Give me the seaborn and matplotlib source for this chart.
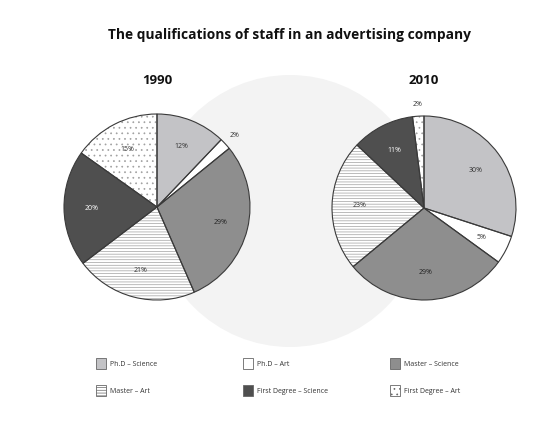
import numpy as np
import seaborn as sns
import matplotlib.pyplot as plt
from matplotlib.patches import Circle, Patch

categories = ['Ph.D – Science', 'Ph.D – Art', 'Master – Science',
              'Master – Art', 'First Degree – Science', 'First Degree – Art']
values_1990 = [12, 2, 29, 21, 20, 15]
values_2010 = [30, 5, 29, 23, 11, 2]
labels_1990 = ['12%', '2%', '29%', '21%', '20%', '15%']
labels_2010 = ['30%', '5%', '29%', '23%', '11%', '2%']

sns.set_theme(style='white')
plt.rcParams['font.family'] = ['Open Sans', 'DejaVu Sans']
plt.rcParams['hatch.linewidth'] = 0.5

face_colors = ['#c3c3c6', '#ffffff', '#8e8e8e', '#ffffff', '#4f4f4f', '#ffffff']
hatches = ['', '', '', '------', '', '...']
text_colors = ['#333333', '#333333', '#222222', '#333333', '#ffffff', '#333333']

W, H = 537, 432
fig = plt.figure(figsize=(W / 100, H / 100), dpi=100)
fig.patch.set_facecolor('white')

# faint watermark circle behind the charts
bg = fig.add_axes([0, 0, 1, 1], zorder=-1)
bg.set_xlim(0, W)
bg.set_ylim(H, 0)
bg.axis('off')
bg.add_patch(Circle((290, 211), 136, color='#f3f3f3', lw=0))


def draw_pie(cx, cy, r, values, labels, year):
    side = 2 * r * 1.3
    ax = fig.add_axes([(cx - side / 2) / W, (H - cy - side / 2) / H, side / W, side / H])
    # fill + hatch in light gray
    wedges, _ = ax.pie(values, colors=face_colors, startangle=90, counterclock=False,
                       wedgeprops=dict(edgecolor='#a0a0a0', linewidth=0))
    for w, h in zip(wedges, hatches):
        w.set_hatch(h)
    # outlines on top
    ax.pie(values, colors=['none'] * len(values), startangle=90, counterclock=False,
           wedgeprops=dict(edgecolor='#3a3a3a', linewidth=0.8, fill=False))
    total = sum(values)
    for w, lab, v, tc in zip(wedges, labels, values, text_colors):
        mid = np.deg2rad((w.theta1 + w.theta2) / 2)
        frac = v / total
        d = 1.13 if frac < 0.04 else 0.7
        ax.text(d * np.cos(mid), d * np.sin(mid), lab, ha='center', va='center',
                fontsize=5, color=tc if frac >= 0.04 else '#333333')
    ax.set_xlim(-1.3, 1.3)
    ax.set_ylim(-1.3, 1.3)
    ax.set_aspect('equal')
    ax.axis('off')
    fig.text(cx / W, 1 - 80 / H, year, ha='center', va='center',
             fontsize=9.5, fontweight='bold', color='#111111')
    return wedges


draw_pie(157, 207, 93, values_1990, labels_1990, '1990')
draw_pie(424, 208, 92, values_2010, labels_2010, '2010')

fig.text(289 / W, 1 - 35 / H, 'The qualifications of staff in an advertising company',
         ha='center', va='center', fontsize=9.9, fontweight='bold', color='#111111')

# legend: three columns placed separately
handles = [Patch(facecolor=fc, edgecolor='#666666', hatch=h, linewidth=0.6)
           for fc, h in zip(face_colors, hatches)]
col_x = [96, 243, 390]
for i, x in enumerate(col_x):
    idx = [i, i + 3]
    leg = fig.legend([handles[j] for j in idx], [categories[j] for j in idx],
                     loc='upper left', bbox_to_anchor=(x / W, 1 - 358 / H),
                     frameon=False, fontsize=5, handlelength=1.45, handleheight=2.0,
                     handletextpad=0.6, labelspacing=2.4, borderaxespad=0, borderpad=0)
    for t in leg.get_texts():
        t.set_color('#333333')

fig.savefig('out.png', dpi=100)
